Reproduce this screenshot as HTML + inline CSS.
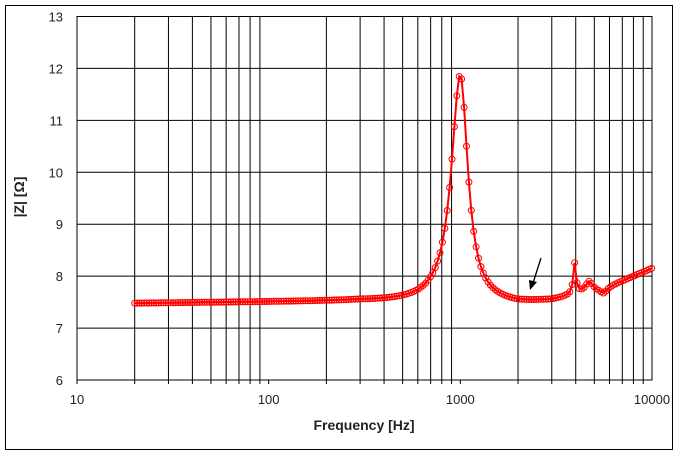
<!DOCTYPE html><html><head><style>body{margin:0;background:#fff}svg{display:block}text{font-family:"Liberation Sans",sans-serif}</style></head><body>
<svg id="s" width="680" height="456" xmlns="http://www.w3.org/2000/svg">
<rect x="5.5" y="5.5" width="667" height="444" fill="#fff" stroke="#000" stroke-width="1"/>
<g id="grid" stroke="#000" stroke-width="1" fill="none"></g>
<g id="lab" font-size="13" fill="#222"></g>
<text x="364" y="430" font-size="14" font-weight="bold" text-anchor="middle" fill="#222">Frequency [Hz]</text>
<text transform="translate(24,197) rotate(-90)" font-size="14" font-weight="bold" text-anchor="middle" fill="#222">|Z| [Ω]</text>
<g id="data"></g>
<line x1="541" y1="258" x2="533" y2="283" stroke="#000" stroke-width="1.3"/>
<polygon points="530,290 529,280 537,282" fill="#000"/>
</svg>
<script>
var L=77,R=652,T=16.5,B=380;
function X(f){return L+(Math.log10(f)-1)/3*(R-L);}
function Y(z){return T+(13-z)/7*(B-T);}
var g=document.getElementById('grid'),lab=document.getElementById('lab'),h='',t='';
h+='<rect x="'+L+'" y="'+T+'" width="'+(R-L)+'" height="'+(B-T)+'"/>';
for(var d=10;d<10000;d*=10)for(var k=1;k<10;k++){var x=X(d*k);if(k>1)h+='<line x1="'+x+'" y1="'+T+'" x2="'+x+'" y2="'+B+'"/>';h+='<line x1="'+x+'" y1="'+B+'" x2="'+x+'" y2="'+(B+4)+'"/>';}
for(var z=7;z<13;z++)h+='<line x1="'+L+'" y1="'+Y(z)+'" x2="'+R+'" y2="'+Y(z)+'"/>';
g.innerHTML=h;
for(var z=6;z<=13;z++)t+='<text x="63" y="'+(Y(z)+5)+'" text-anchor="end">'+z+'</text>';
[10,100,1000,10000].forEach(function(f){t+='<text x="'+X(f)+'" y="404" text-anchor="middle">'+f+'</text>';});
lab.innerHTML=t;
var kp=[[20,7.48],[100,7.51],[300,7.53],[600,7.5],[2000,7.47],[3000,7.53],[4500,7.68],[5500,7.74],[10000,8.15]];
function base(f){var lf=Math.log10(f);for(var i=0;i<kp.length-1;i++){var a=Math.log10(kp[i][0]),b=Math.log10(kp[i+1][0]);if(lf<=b){return kp[i][1]+(kp[i+1][1]-kp[i][1])*(lf-a)/(b-a);}}return kp[kp.length-1][1];}
function lor(f,f0,A,Q){var u=f/f0-f0/f;return A/(1+Q*Q*u*u);}
function Z(f){var q=f>1000?4.6:3.85;return base(f)+lor(f,1000,4.4,q)+lor(f,3950,0.6,25)+lor(f,4700,0.2,10)-lor(f,5600,0.1,10);}
var pts=[],c='';
for(var i=0;;i++){var f=20*Math.pow(2,i/24);if(f>10050)break;var x=X(f),y=Y(Z(f));pts.push(x.toFixed(1)+','+y.toFixed(1));c+='<circle cx="'+x.toFixed(1)+'" cy="'+y.toFixed(1)+'" r="3" fill="none" stroke="#f00" stroke-width="1"/>';}
document.getElementById('data').innerHTML='<polyline points="'+pts.join(' ')+'" fill="none" stroke="#f00" stroke-width="2"/>'+c;
</script></body></html>
